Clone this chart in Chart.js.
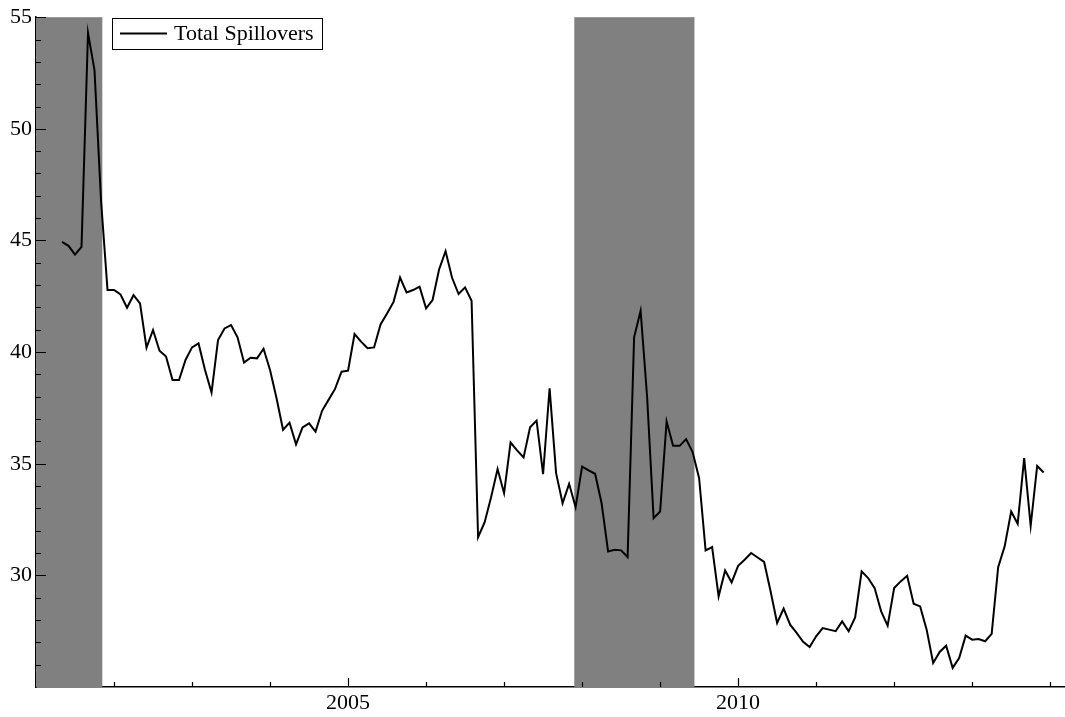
<!DOCTYPE html>
<html>
<head>
<meta charset="utf-8">
<script src="https://cdn.jsdelivr.net/npm/chart.js@4.4.0/dist/chart.umd.min.js"></script>
<style>
  html, body { margin: 0; padding: 0; background: #fff; }
</style>
</head>
<body>
<canvas id="spillChart" width="1065" height="717"></canvas>
<script>
// monthly series, May 2001 .. Dec 2013
const startYear = 2001;
const startMonth = 5;
const spillovers = [
  44.94, 44.76, 44.37, 44.71, 54.30, 52.62, 46.80, 42.78, 42.78, 42.58,
  41.99, 42.55, 42.18, 40.20, 40.99, 40.06, 39.80, 38.75, 38.75, 39.65,
  40.21, 40.39, 39.20, 38.19, 40.54, 41.06, 41.21, 40.66, 39.53, 39.75,
  39.72, 40.15, 39.20, 37.93, 36.52, 36.84, 35.87, 36.63, 36.81, 36.44,
  37.37, 37.86, 38.35, 39.12, 39.17, 40.81, 40.47, 40.17, 40.21, 41.24,
  41.73, 42.25, 43.34, 42.67, 42.78, 42.93, 41.96, 42.33, 43.70, 44.52,
  43.33, 42.60, 42.90, 42.30, 31.71, 32.37, 33.50, 34.76, 33.68, 35.95,
  35.60, 35.28, 36.63, 36.93, 34.53, 38.38, 34.58, 33.23, 34.10, 33.06,
  34.87, 34.70, 34.55, 33.23, 31.07, 31.15, 31.12, 30.82, 40.66, 41.85,
  38.00, 32.56, 32.86, 36.89, 35.80, 35.80, 36.10, 35.52, 34.35, 31.12,
  31.27, 29.06, 30.22, 29.69, 30.43, 30.70, 31.00, 30.80, 30.60, 29.28,
  27.87, 28.51, 27.79, 27.42, 27.02, 26.79, 27.27, 27.64, 27.57, 27.50,
  27.94, 27.50, 28.12, 30.18, 29.88, 29.43, 28.39, 27.75, 29.43, 29.73,
  29.98, 28.73, 28.61, 27.57, 26.08, 26.57, 26.85, 25.86, 26.30, 27.30,
  27.12, 27.15, 27.05, 27.38, 30.37, 31.30, 32.86, 32.31, 35.25, 32.22,
  34.90, 34.61
];
// shaded periods (decimal years)
const recessionStart = [2000.9, 2007.9];
const recessionEnd = [2001.85, 2009.44];
const yLabelTicks = [30, 35, 40, 45, 50, 55];
const xLabelTicks = [2005, 2010];

const points = spillovers.map((v, i) => ({
  x: startYear + (startMonth - 1 + i) / 12,
  y: v,
}));

const serif = '"Liberation Serif", "Times New Roman", serif';

const shading = {
  id: "shading",
  beforeDatasetsDraw(chart) {
    const ctx = chart.ctx;
    const area = chart.chartArea;
    const xs = chart.scales.x;
    ctx.save();
    ctx.fillStyle = "#808080";
    recessionStart.forEach((s, i) => {
      const x0 = Math.max(area.left, xs.getPixelForValue(s));
      const x1 = Math.min(area.right, xs.getPixelForValue(recessionEnd[i]));
      ctx.fillRect(x0, area.top, x1 - x0, area.bottom - area.top);
    });
    ctx.restore();
  },
};

// tick marks pointing into the plot + legend box
const innerTicks = {
  id: "innerTicks",
  afterDraw(chart) {
    const ctx = chart.ctx;
    const area = chart.chartArea;
    const xs = chart.scales.x;
    const ys = chart.scales.y;
    ctx.save();
    ctx.strokeStyle = "#000";
    ctx.lineWidth = 1.2;
    ctx.beginPath();
    xs.ticks.forEach((t) => {
      if (!Number.isInteger(t.value) || t.value <= xs.min) return;
      const px = Math.round(xs.getPixelForValue(t.value)) + 0.5;
      const len = xLabelTicks.includes(t.value) ? 9 : 5;
      ctx.moveTo(px, area.bottom);
      ctx.lineTo(px, area.bottom - len);
    });
    ys.ticks.forEach((t) => {
      if (t.value <= ys.min) return;
      const py = Math.round(ys.getPixelForValue(t.value)) + 0.5;
      const len = yLabelTicks.includes(t.value) ? 10 : 5;
      ctx.moveTo(area.left, py);
      ctx.lineTo(area.left + len, py);
    });
    ctx.stroke();

    // legend
    const ds = chart.data.datasets[0];
    ctx.fillStyle = "#fff";
    ctx.fillRect(112.5, 18.5, 210, 31);
    ctx.lineWidth = 1;
    ctx.strokeRect(112.5, 18.5, 210, 31);
    ctx.lineWidth = 2;
    ctx.beginPath();
    ctx.moveTo(120, 33.5);
    ctx.lineTo(167, 33.5);
    ctx.stroke();
    ctx.fillStyle = "#000";
    ctx.font = "22px " + serif;
    ctx.textBaseline = "middle";
    ctx.fillText(ds.label, 174, 34);
    ctx.restore();
  },
};

new Chart(document.getElementById("spillChart"), {
  type: "line",
  data: {
    datasets: [
      {
        label: "Total Spillovers",
        data: points,
        borderColor: "#000",
        borderWidth: 2,
        pointRadius: 0,
        tension: 0,
        fill: false,
      },
    ],
  },
  options: {
    responsive: false,
    animation: false,
    devicePixelRatio: 1,
    layout: { padding: { top: 17, right: 0, left: 0, bottom: 0 } },
    plugins: {
      legend: { display: false },
      tooltip: { enabled: false },
    },
    scales: {
      x: {
        type: "linear",
        min: 2001,
        max: 2014.19,
        grid: { display: false, drawTicks: false },
        border: { display: true, color: "#000", width: 1.5 },
        ticks: {
          stepSize: 1,
          includeBounds: false,
          autoSkip: false,
          maxRotation: 0,
          padding: 3,
          color: "#000",
          font: { family: serif, size: 22 },
          callback: (v) => (xLabelTicks.includes(v) ? String(v) : ""),
        },
        afterFit: (s) => { s.height = 30; },
      },
      y: {
        min: 25,
        max: 55,
        grid: { display: false, drawTicks: false },
        border: { display: true, color: "#000", width: 1.5 },
        ticks: {
          stepSize: 1,
          autoSkip: false,
          padding: 4,
          color: "#000",
          font: { family: serif, size: 22 },
          callback: (v) => (yLabelTicks.includes(v) ? String(v) : ""),
        },
        afterFit: (s) => { s.width = 36; },
      },
    },
  },
  plugins: [shading, innerTicks],
});
</script>
</body>
</html>
